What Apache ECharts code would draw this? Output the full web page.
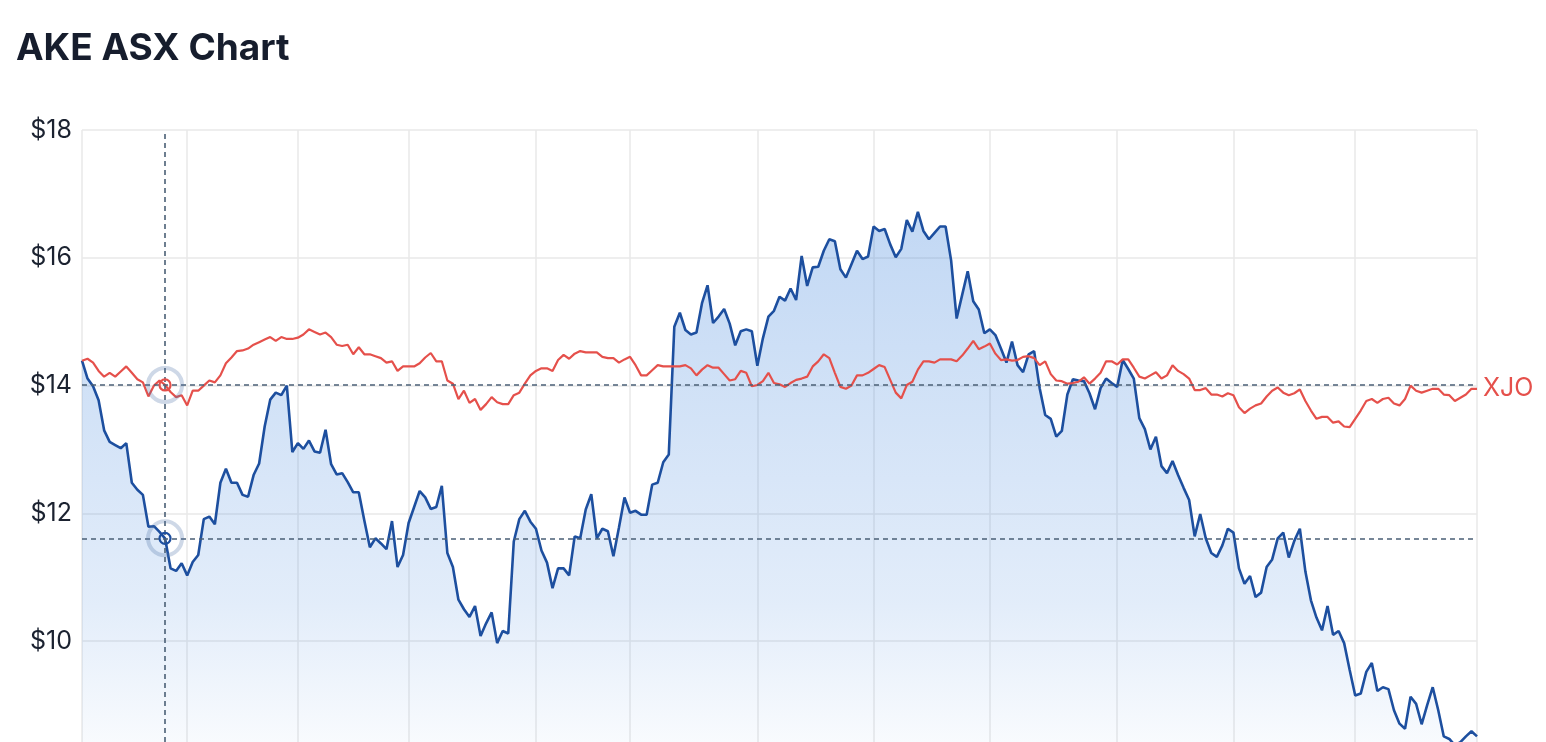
<!DOCTYPE html>
<html>
<head>
<meta charset="utf-8">
<script src="https://cdn.jsdelivr.net/npm/echarts@6/dist/echarts.min.js"></script>
<style>
html,body{margin:0;padding:0;background:#fff;overflow:hidden;}
#chart{width:1546px;height:769px;}
</style>
</head>
<body>
<div id="chart"></div>
<script>
// AKE close prices (one value per trading day)
const ake = [
14.39,14.11,13.99,13.77,13.30,13.12,13.07,13.02,13.10,12.48,
12.37,12.29,11.79,11.80,11.71,11.61,11.14,11.10,11.22,11.03,
11.24,11.35,11.91,11.95,11.83,12.48,12.70,12.48,12.48,12.29,
12.26,12.60,12.78,13.36,13.78,13.89,13.85,14.00,12.96,13.10,
13.01,13.14,12.97,12.95,13.31,12.77,12.61,12.63,12.49,12.33,
12.33,11.89,11.47,11.61,11.53,11.44,11.88,11.16,11.35,11.85,
12.10,12.35,12.25,12.07,12.10,12.43,11.38,11.16,10.65,10.50,
10.38,10.55,10.08,10.28,10.45,9.97,10.16,10.12,11.56,11.91,
12.04,11.87,11.76,11.42,11.23,10.83,11.14,11.14,11.03,11.64,
11.61,12.06,12.30,11.61,11.76,11.72,11.33,11.78,12.25,12.01,
12.04,11.98,11.98,12.45,12.48,12.80,12.92,14.92,15.14,14.87,
14.80,14.83,15.29,15.57,14.98,15.08,15.20,14.97,14.63,14.85,
14.88,14.85,14.31,14.74,15.08,15.17,15.39,15.33,15.52,15.34,
16.03,15.56,15.85,15.86,16.11,16.29,16.26,15.82,15.69,15.90,
16.11,15.98,16.02,16.49,16.42,16.45,16.21,16.01,16.14,16.59,
16.41,16.72,16.42,16.29,16.39,16.49,16.49,15.96,15.05,15.42,
15.79,15.32,15.19,14.82,14.88,14.79,14.58,14.36,14.69,14.32,
14.21,14.49,14.54,13.96,13.54,13.48,13.20,13.29,13.86,14.10,
14.08,14.07,13.88,13.63,13.96,14.11,14.04,13.98,14.40,14.26,
14.11,13.49,13.32,13.00,13.20,12.74,12.63,12.82,12.60,12.40,
12.21,11.64,11.99,11.61,11.38,11.32,11.50,11.76,11.70,11.14,
10.90,11.02,10.69,10.76,11.16,11.28,11.61,11.70,11.31,11.57,
11.76,11.09,10.64,10.37,10.17,10.55,10.10,10.16,9.97,9.55,
9.15,9.18,9.52,9.66,9.22,9.28,9.25,8.92,8.71,8.63,
9.13,9.02,8.70,9.00,9.28,8.92,8.51,8.47,8.37,8.42,
8.51,8.59,8.51
];
// XJO rebased to AKE's starting price
const xjo = [
14.39,14.42,14.36,14.23,14.14,14.20,14.14,14.22,14.30,14.20,
14.10,14.05,13.83,14.00,14.08,14.01,13.90,13.82,13.85,13.69,
13.92,13.92,14.00,14.08,14.05,14.16,14.35,14.44,14.54,14.55,
14.58,14.64,14.68,14.72,14.76,14.70,14.76,14.73,14.73,14.75,
14.80,14.88,14.84,14.80,14.83,14.76,14.64,14.62,14.64,14.49,
14.60,14.49,14.49,14.46,14.43,14.36,14.38,14.23,14.30,14.30,
14.30,14.35,14.44,14.51,14.38,14.38,14.08,14.03,13.79,13.92,
13.73,13.79,13.62,13.71,13.82,13.74,13.71,13.71,13.85,13.89,
14.03,14.16,14.23,14.27,14.27,14.23,14.40,14.48,14.42,14.50,
14.54,14.52,14.52,14.52,14.45,14.43,14.43,14.36,14.41,14.45,
14.32,14.16,14.16,14.24,14.32,14.30,14.30,14.30,14.30,14.32,
14.27,14.16,14.25,14.32,14.28,14.28,14.18,14.08,14.10,14.23,
14.20,13.99,14.01,14.07,14.20,14.04,14.02,13.98,14.04,14.09,
14.11,14.14,14.30,14.38,14.49,14.43,14.20,13.98,13.95,14.00,
14.16,14.16,14.20,14.26,14.32,14.29,14.09,13.89,13.80,14.01,
14.06,14.25,14.38,14.38,14.36,14.41,14.41,14.41,14.38,14.47,
14.58,14.70,14.57,14.61,14.66,14.50,14.40,14.41,14.39,14.40,
14.45,14.46,14.43,14.32,14.38,14.18,14.08,14.07,14.03,14.04,
14.06,14.13,14.03,14.11,14.20,14.38,14.38,14.33,14.41,14.41,
14.28,14.14,14.11,14.16,14.21,14.11,14.16,14.32,14.23,14.18,
14.11,13.93,13.93,13.96,13.86,13.86,13.83,13.88,13.85,13.66,
13.57,13.64,13.69,13.72,13.83,13.92,13.97,13.89,13.85,13.88,
13.94,13.76,13.61,13.48,13.51,13.51,13.42,13.44,13.36,13.35,
13.48,13.61,13.76,13.79,13.73,13.79,13.81,13.72,13.69,13.79,
14.00,13.92,13.89,13.92,13.95,13.95,13.86,13.85,13.76,13.81,
13.86,13.95,13.95
];
// trading-day categories
const categories = ake.map((_, i) => 'D' + i);
// indices of month boundaries (vertical grid lines)
const monthStarts = [0, 19, 39, 59, 82, 99, 122, 143, 164, 187, 208, 230, 252];
// hovered day (crosshair)
const hoverIndex = 15;
const yTicks = [8, 10, 12, 14, 16, 18];

const BLUE = '#1d4f9f';
const RED = '#e5504b';
const CROSS = '#4a5f75';
const FONT = 'Inter, "Noto Sans", sans-serif';

const chart = echarts.init(document.getElementById('chart'), null, {renderer: 'canvas'});
const msSet = new Set(monthStarts);
chart.setOption({
  animation: false,
  backgroundColor: '#fff',
  title: {
    text: 'AKE ASX Chart',
    left: 11, top: 25,
    textStyle: {fontFamily: FONT, fontSize: 37, fontWeight: 700, color: '#161d2d'}
  },
  grid: {left: 82, right: 69, top: 130, bottom: 0, containLabel: false, outerBoundsMode: 'none'},
  xAxis: {
    type: 'category',
    data: categories,
    boundaryGap: false,
    axisLine: {show: false},
    axisTick: {show: false},
    axisLabel: {show: false},
    splitLine: {
      show: true,
      interval: (idx) => msSet.has(idx),
      lineStyle: {color: '#e8e8e8', width: 1.5}
    }
  },
  yAxis: {
    type: 'value',
    min: yTicks[0], max: yTicks[yTicks.length - 1], interval: 2,
    axisLine: {show: false},
    axisTick: {show: false},
    axisLabel: {
      formatter: (v) => '$' + v,
      fontFamily: FONT, fontSize: 25, color: '#1b2230', margin: 10
    },
    splitLine: {lineStyle: {color: '#e8e8e8', width: 1.5}}
  },
  series: [
    {
      name: 'AKE',
      type: 'line',
      data: ake,
      symbol: 'none',
      lineStyle: {color: BLUE, width: 2.6},
      areaStyle: {
        color: new echarts.graphic.LinearGradient(0, 0, 0, 1, [
          {offset: 0, color: 'rgba(61,131,220,0.45)'},
          {offset: 0.7, color: 'rgba(61,131,220,0.21)'},
          {offset: 1, color: 'rgba(61,131,220,0.02)'}
        ])
      },
      z: 2,
      markLine: {
        silent: true,
        symbol: ['none', 'none'],
        label: {show: false},
        lineStyle: {color: CROSS, type: [5, 4], width: 1.6},
        data: [{xAxis: categories[hoverIndex]}, {yAxis: ake[hoverIndex]}]
      },
      markPoint: {
        silent: true,
        label: {show: false},
        data: [
          {coord: [categories[hoverIndex], ake[hoverIndex]], symbol: 'circle', symbolSize: 34,
           itemStyle: {color: 'rgba(0,0,0,0)', borderColor: 'rgba(80,115,170,0.28)', borderWidth: 4}},
          {coord: [categories[hoverIndex], ake[hoverIndex]], symbol: 'circle', symbolSize: 11,
           itemStyle: {color: 'rgba(0,0,0,0)', borderColor: BLUE, borderWidth: 2.2}}
        ]
      }
    },
    {
      name: 'XJO',
      type: 'line',
      data: xjo,
      symbol: 'none',
      lineStyle: {color: RED, width: 2.2},
      z: 3,
      endLabel: {
        show: true,
        formatter: 'XJO',
        color: RED,
        fontFamily: FONT,
        fontSize: 25,
        distance: 6
      },
      markLine: {
        silent: true,
        symbol: ['none', 'none'],
        label: {show: false},
        lineStyle: {color: CROSS, type: [5, 4], width: 1.6},
        data: [{yAxis: xjo[hoverIndex]}]
      },
      markPoint: {
        silent: true,
        label: {show: false},
        data: [
          {coord: [categories[hoverIndex], xjo[hoverIndex]], symbol: 'circle', symbolSize: 34,
           itemStyle: {color: 'rgba(0,0,0,0)', borderColor: 'rgba(80,115,170,0.28)', borderWidth: 4}},
          {coord: [categories[hoverIndex], xjo[hoverIndex]], symbol: 'circle', symbolSize: 11,
           itemStyle: {color: 'rgba(0,0,0,0)', borderColor: RED, borderWidth: 2.2}}
        ]
      }
    }
  ]
});
</script>
</body>
</html>
